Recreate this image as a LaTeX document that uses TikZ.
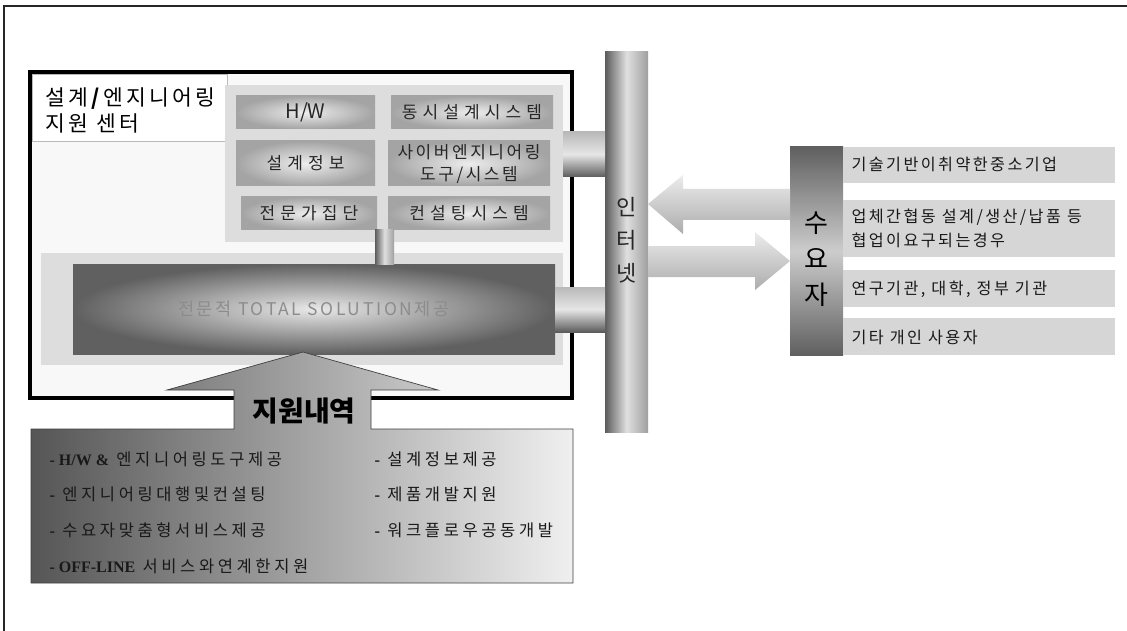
\documentclass[tikz,border=0pt]{standalone}
\usepackage{fontspec}
\setmainfont{Noto Sans CJK KR}
\newfontfamily\kr{Noto Sans CJK KR}
\newfontfamily\krsp[LetterSpace=15]{Noto Sans CJK KR}
\newfontfamily\krmid[LetterSpace=22]{Noto Sans CJK KR}
\newfontfamily\krwide[LetterSpace=30]{Noto Sans CJK KR}
\newfontfamily\lser{Liberation Serif}
\definecolor{panel}{HTML}{DDDDDD}
\definecolor{itemc}{HTML}{D6D6D6}
\definecolor{mainbg}{HTML}{F8F8F8}
\definecolor{dk}{HTML}{5C5C5C}
\definecolor{mid}{HTML}{A4A4A4}
\definecolor{lt}{HTML}{EDEDED}
\begin{document}
\begin{tikzpicture}[x=1pt,y=-1pt,
  rbox/.style 2 args={minimum width=#1, minimum height=#2, inner sep=0pt, outer sep=0pt},
  radial shading cell/.style={inner color=lt, outer color=mid},
  pipev/.style={left color=dk, right color=gray!75, middle color=gray!25},
  pipeh/.style={top color=gray!55, bottom color=dk, middle color=gray!20},
  flow/.style={top color=gray!15, bottom color=gray!65, draw=none},
  celltext/.style={font=\krwide\fontsize{17}{22}\selectfont, text=black!85, align=center},
  itemtext/.style={font=\krsp\fontsize{16.2}{24}\selectfont, text=black!90, anchor=west, align=left},
  listtext/.style={font=\krmid\fontsize{16.5}{18}\selectfont, text=black!90, anchor=west}
]
\useasboundingbox (0,0) rectangle (1127,631);
\fill[white] (0,0) rectangle (1127,631);
% outer frame
\draw[line width=1.8pt, black!85] (4,6) rectangle (1150,650);

% main centre box
\node[rbox={542pt}{326pt}, fill=mainbg, draw=black, line width=4.5pt] (center) at (301,235) {};
\node[rbox={195pt}{67pt}, fill=white, draw=gray!55, line width=.6pt, anchor=north west] (tab) at (32.5,74.5) {};
\node[anchor=west, align=left, font=\krsp\fontsize{21.5}{26}\selectfont] (title) at (42,110) {설계\textbf{/}엔지니어링\\지원 센터};

% top panel with cells
\node[rbox={338pt}{157pt}, fill=panel, anchor=north west] (toppanel) at (225,85) {};
\node[rbox={139pt}{33pt}, radial shading cell, celltext, font=\kr\fontsize{20}{22}\selectfont] (hw) at (305.5,112.5) {H/W};
\node[rbox={162pt}{33pt}, radial shading cell, celltext] (dong) at (472,112.5) {동시설계시스템};
\node[rbox={139pt}{45pt}, radial shading cell, celltext] (sg) at (305.5,163.5) {설계정보};
\node[rbox={162pt}{45pt}, radial shading cell, celltext, font=\krsp\fontsize{17}{22}\selectfont] (cyber) at (469,163.5) {사이버엔지니어링\\도구/시스템};
\node[rbox={136pt}{33pt}, radial shading cell, celltext] (jm) at (309,213.5) {전문가집단};
\node[rbox={162pt}{33pt}, radial shading cell, celltext] (cs) at (469,213.5) {컨설팅시스템};

% bottom panel with total solution box
\node[rbox={522pt}{112pt}, fill=panel, anchor=north west] (botpanel) at (41,253) {};
\node[rbox={482pt}{90pt}, inner color=gray!18, outer color=gray!75!black, anchor=north west] (total) at (73,264) {};
\node[font=\krsp\fontsize{17.5}{20}\selectfont, text=gray!90] (totaltext) at (total.center) {전문적 TOTAL SOLUTION제공};

% vertical pipe between panels
\shade[pipev] (375,230) rectangle (total.north -| 394,0);

% internet bar
\node[rbox={43pt}{380pt}, pipev, anchor=north west] (inet) at (605,52) {};
\node[font=\kr\fontsize{22}{33}\selectfont, align=center, text=black!85] (inettext) at (627,240) {인\\터\\넷};

% pipes from centre to internet
\shade[pipeh] (toppanel.east |- 0,132) rectangle (inet.west |- 0,177);
\shade[pipeh] (total.east |- 0,287) rectangle (inet.west |- 0,332);

% demand side bar and items
\node[rbox={53pt}{208pt}, top color=gray!75!black, bottom color=gray!75!black, middle color=gray!40, anchor=north west] (user) at (790,147) {};
\node[font=\kr\fontsize{26}{36}\selectfont, align=center, text=black] (usertext) at (816,259) {수\\요\\자};

\node[rbox={272pt}{36pt}, fill=itemc, anchor=north west] (it1) at (843,147) {};
\node[rbox={272pt}{57pt}, fill=itemc, anchor=north west] (it2) at (843,200) {};
\node[rbox={272pt}{37pt}, fill=itemc, anchor=north west] (it3) at (843,270) {};
\node[rbox={272pt}{37pt}, fill=itemc, anchor=north west] (it4) at (843,318) {};
\node[itemtext] at (848,164) {기술기반이취약한중소기업};
\node[itemtext] at (848,228.5) {업체간협동 설계/생산/납품 등\\협업이요구되는경우};
\node[itemtext] at (848,289) {연구기관, 대학, 정부 기관};
\node[itemtext] at (848,337) {기타 개인 사용자};

% arrows between users and internet
\shade[flow] (user.west |- 0,189) -- (683,189) -- (683,175) -- (inet.east |- 0,204) -- (683,234) -- (683,220) -- (user.west |- 0,220) -- cycle;
\shade[flow] (inet.east |- 0,246) -- (755,246) -- (755,232) -- (user.west |- 0,261) -- (755,290) -- (755,277) -- (inet.east |- 0,277) -- cycle;

% support arrow with list box
\shadedraw[left color=gray!60!black!95, right color=gray!12, draw=black!75, line width=.7pt]
  (31,429) -- (234,429) -- (234,390) -- (167,390) -- (303,352) -- (438,390) -- (371,390) -- (371,429)
  -- (573,429) -- (573,583) -- (31,583) -- cycle;
\node[font=\kr\bfseries\fontsize{28}{30}\selectfont, text=black] (jiwon) at (304,411) {지원내역};

\node[listtext] at (46,459) {{\lser\bfseries\fontsize{16}{18}\selectfont - H/W \&} 엔지니어링도구제공};
\node[listtext] at (46,494) {{\lser\bfseries -} 엔지니어링대행및컨설팅};
\node[listtext] at (46,530) {{\lser\bfseries -} 수요자맞춤형서비스제공};
\node[listtext] at (46,566) {{\lser\bfseries\fontsize{16}{18}\selectfont - OFF-LINE} 서비스와연계한지원};
\node[listtext] at (371,459) {{\lser\bfseries -} 설계정보제공};
\node[listtext] at (371,494) {{\lser\bfseries -} 제품개발지원};
\node[listtext] at (371,530) {{\lser\bfseries -} 워크플로우공동개발};
\end{tikzpicture}
\end{document}
